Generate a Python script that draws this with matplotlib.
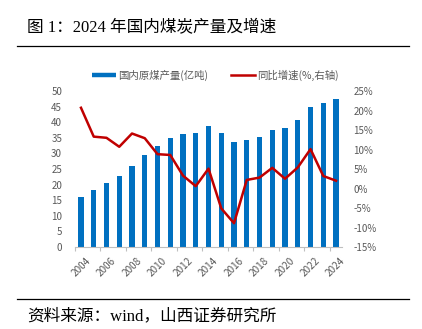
import matplotlib
matplotlib.use("Agg")
import matplotlib.pyplot as plt
from matplotlib.lines import Line2D
from matplotlib.transforms import ScaledTranslation

plt.rcParams["font.family"] = ["Noto Sans CJK SC", "DejaVu Sans"]

# 数据：2004-2024 年原煤产量（亿吨）与同比增速（%）
years = list(range(2004, 2025))
output = [16.0, 18.3, 20.5, 22.9, 26.0, 29.5, 32.3, 34.9, 36.2, 36.6, 38.7,
          36.6, 33.6, 34.3, 35.4, 37.4, 38.3, 40.6, 44.8, 46.3, 47.3]
growth = [20.7, 13.3, 13.0, 10.7, 14.1, 12.9, 8.8, 8.6, 3.3, 0.6, 5.1,
          -5.1, -8.9, 2.2, 2.8, 5.3, 2.5, 5.4, 10.1, 3.2, 2.0]

bar_label = "国内原煤产量(亿吨)"
line_label = "同比增速(%,右轴)"
title = "图 1：2024 年国内煤炭产量及增速"
source = "资料来源：wind，山西证券研究所"

blue = "#0070C0"
red = "#C00000"
grey = "#595959"

fig = plt.figure(figsize=(4.22, 3.29), dpi=100)
ax = fig.add_axes([0.1768, 0.2492, 0.6346, 0.4742])
ax2 = ax.twinx()

x = list(range(len(years)))
ax.bar(x, output, width=0.42, color=blue, zorder=2)
ax2.plot(x, growth, color=red, lw=1.8, zorder=3)

# 左轴
ax.set_ylim(0, 50)
ax.set_yticks(range(0, 51, 5))
ax.set_xlim(-0.5, len(years) - 0.5)

# 横轴：刻度线在类别边界，每两年一个标签
ax.set_xticks([i - 0.5 for i in range(0, len(years) + 1, 2)])
ax.set_xticklabels([])
ax.tick_params(axis="x", which="major", length=3, color="#BFBFBF", width=0.8)
ax.set_xticks(x[::2], minor=True)
ax.set_xticklabels([str(y) for y in years[::2]], minor=True, rotation=45,
                   ha="right", va="top", rotation_mode="anchor",
                   fontsize=7.2, color=grey)
ax.tick_params(axis="x", which="minor", length=0, pad=6)
offset = ScaledTranslation(3 / 72, 0, fig.dpi_scale_trans)
for lab in ax.get_xticklabels(minor=True):
    lab.set_transform(lab.get_transform() + offset)

ax.tick_params(axis="y", length=0, labelsize=7, labelcolor=grey, pad=9)

# 右轴
ax2.set_ylim(-15, 25)
ax2.set_yticks(range(-15, 26, 5))
ax2.set_yticklabels([f"{v}%" for v in range(-15, 26, 5)])
ax2.tick_params(axis="y", length=0, labelsize=7, labelcolor=grey, pad=8)

for a in (ax, ax2):
    for side in ("top", "left", "right"):
        a.spines[side].set_visible(False)
    a.spines["bottom"].set_color("#BFBFBF")
    a.spines["bottom"].set_linewidth(0.8)
ax2.spines["bottom"].set_visible(False)

# 图例
handles = [Line2D([], [], color=blue, lw=3.2, solid_capstyle="butt"),
           Line2D([], [], color=red, lw=1.8)]
fig.legend(handles, [bar_label, line_label], loc="center",
           bbox_to_anchor=(0.511, 0.772), ncol=2, frameon=False,
           fontsize=7.5, handlelength=2.3, handletextpad=0.2,
           columnspacing=2.2, labelcolor=grey)

# 标题和来源
serif = ["Liberation Serif", "Noto Sans CJK SC"]
fig.text(0.064, 0.915, title, fontsize=12, family=serif, va="center", ha="left")
fig.add_artist(Line2D([0.04, 0.97], [1 - 46 / 329, 1 - 46 / 329],
                      color="black", lw=0.9, transform=fig.transFigure))
fig.add_artist(Line2D([0.04, 0.97], [1 - 298.5 / 329, 1 - 298.5 / 329],
                      color="black", lw=0.9, transform=fig.transFigure))
fig.text(0.064, 1 - 316 / 329, source, fontsize=12, family=serif,
         va="center", ha="left")

fig.savefig("out.png", dpi=100)
plt.close(fig)
